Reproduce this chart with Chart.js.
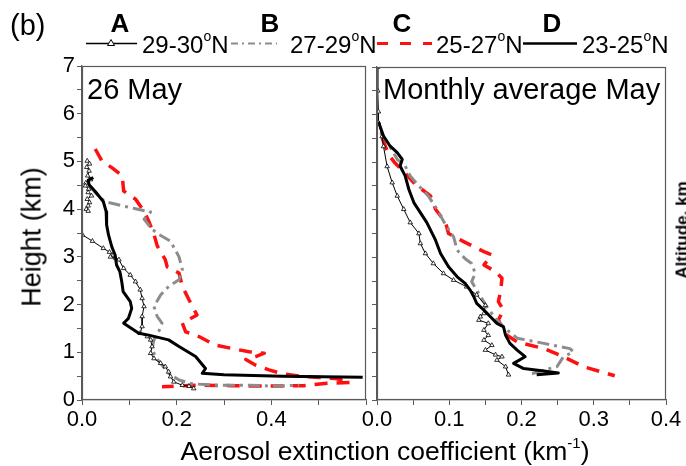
<!DOCTYPE html>
<html><head><meta charset="utf-8">
<script src="https://cdn.jsdelivr.net/npm/chart.js@4.4.0/dist/chart.umd.min.js"></script>
<style>
html,body{margin:0;padding:0;background:#fff;}
#wrap{position:relative;width:686px;height:466px;overflow:hidden;font-family:"Liberation Sans",Arial,sans-serif;color:#000;background:#fff;}
canvas{position:absolute;top:0;}
.t{position:absolute;white-space:nowrap;line-height:1;}
.L{position:absolute;white-space:nowrap;line-height:1;top:10px;width:30px;text-align:center;font-size:26px;font-weight:bold;}
</style></head><body>
<div id="wrap">
<canvas id="c1" width="372" height="466" style="left:0;width:372px;height:466px"></canvas>
<canvas id="c2" width="346" height="466" style="left:340px;width:346px;height:466px"></canvas>
<svg style="position:absolute;left:0;top:0" width="686" height="60">
  <line x1="86" y1="43.5" x2="137" y2="43.5" stroke="#000" stroke-width="1.5"/>
  <polygon points="111,39.5 107.5,45.5 114.5,45.5" fill="#fff" stroke="#000" stroke-width="1"/>
  <line x1="231" y1="43.5" x2="277" y2="43.5" stroke="#8c8c8c" stroke-width="2" stroke-dasharray="7,4,2,4"/>
  <line x1="377" y1="43.5" x2="432" y2="43.5" stroke="#ff1010" stroke-width="3" stroke-dasharray="11,12"/>
  <line x1="523" y1="43.5" x2="577" y2="43.5" stroke="#000" stroke-width="2.5"/>
</svg>
<div class="t" style="left:10px;top:11px;font-size:29px">(b)</div>
<div class="L" style="left:105px">A</div>
<div class="L" style="left:255px">B</div>
<div class="L" style="left:387px">C</div>
<div class="L" style="left:537px">D</div>
<div class="t" style="left:142px;top:32.7px;font-size:24px">29-30<span style="font-size:14px;position:relative;top:-12px">o</span>N</div>
<div class="t" style="left:290px;top:32.7px;font-size:24px">27-29<span style="font-size:14px;position:relative;top:-12px">o</span>N</div>
<div class="t" style="left:436px;top:32.7px;font-size:24px">25-27<span style="font-size:14px;position:relative;top:-12px">o</span>N</div>
<div class="t" style="left:582px;top:32.7px;font-size:24px">23-25<span style="font-size:14px;position:relative;top:-12px">o</span>N</div>
<div class="t" style="left:87px;top:74.5px;font-size:29px">26 May</div>
<div class="t" style="left:383px;top:74.5px;font-size:29px">Monthly average May</div>
<div class="t" style="left:32px;top:237px;font-size:27px;transform:translate(-50%,-50%) rotate(-90deg)">Height (km)</div>
<div class="t" style="left:385px;top:438px;font-size:26.5px;transform:translateX(-50%)">Aerosol extinction coefficient (km<span style="font-size:15px;position:relative;top:-12px">-1</span>)</div>
<div class="t" style="left:681.5px;top:230px;font-size:17px;font-weight:bold;transform:translate(-50%,-50%) rotate(-90deg)">Altitude, km</div>
</div>
<script>
// ---- data: [extinction coefficient (km^-1), height (km)] ----
const dayA = [[.011,5.01],[.016,4.95],[.010,4.88],[.015,4.80],[.012,4.70],[.018,4.62],[.008,4.55],[.007,4.49],[.014,4.42],[.013,4.35],[.020,4.28],[.011,4.21],[.016,4.14],[.013,4.07],[.009,4.00],[.013,3.96],null,
  [.001,3.46],[.022,3.33],[.045,3.18],[.058,3.10],[.066,3.04],[.060,3.00],[.070,2.98],[.078,2.94],[.088,2.76],[.102,2.62],[.113,2.48],[.123,2.31],[.127,2.13],[.131,1.96],[.127,1.75],[.127,1.54],[.123,1.40],[.138,1.33],[.145,1.26],[.148,1.12],[.145,0.98],[.152,0.87],[.166,0.77],[.176,0.70],[.183,0.59],[.187,0.49],[.194,0.38],[.212,0.31],[.226,0.29],[.236,0.24]];
const dayB = [[.017,4.48],[.028,4.35],[.040,4.22],[.056,4.14],[.085,4.07],[.113,4.01],[.145,3.94],[.131,3.79],[.148,3.58],[.162,3.47],[.187,3.33],[.205,3.0],[.212,2.73],[.205,2.52],[.183,2.38],[.166,2.20],[.152,1.96],[.159,1.75],[.169,1.61],[.162,1.43],[.152,1.26],[.148,1.08],[.155,0.91],[.169,0.73],[.183,0.56],[.205,0.42],[.233,0.34],[.282,0.31],[.353,0.31],[.409,0.29],[.459,0.31]];
const dayC = [[.028,5.26],[.042,5.01],[.063,4.87],[.085,4.70],[.088,4.38],[.113,4.21],[.131,3.96],[.141,3.75],[.152,3.47],[.159,3.23],[.176,2.94],[.180,2.79],[.205,2.66],[.212,2.38],[.226,2.10],[.243,1.78],[.212,1.61],[.219,1.43],[.247,1.33],[.282,1.15],[.317,1.08],[.353,1.01],[.385,0.98],[.367,0.91],[.346,0.85],[.367,0.73],[.395,0.63],[.423,0.55],[.459,0.50],[.494,0.476],[.536,0.45],[.567,0.37],[.518,0.35],[.468,0.30],[.388,0.29],[.317,0.30],[.247,0.31],[.169,0.28]];
const dayD = [[.024,4.66],[.013,4.61],[.015,4.51],[.028,4.37],[.045,4.16],[.051,3.95],[.052,3.67],[.056,3.46],[.063,3.21],[.070,3.04],[.073,2.83],[.080,2.69],[.084,2.48],[.087,2.27],[.102,2.06],[.105,1.92],[.098,1.71],[.091,1.64],[.088,1.61],[.120,1.40],[.141,1.36],[.183,1.26],[.205,1.12],[.240,0.91],[.261,0.66],[.254,0.56],[.300,0.53],[.423,0.50],[.593,0.476]];
const monA = [[.001,7.0],[.001,6.5],[.002,6.06],[.002,5.83],[.007,5.54],[.009,5.33],[.014,4.91],[.021,4.57],[.028,4.29],[.037,4.01],[.046,3.73],[.058,3.50],[.060,3.29],[.067,3.08],[.078,2.87],[.092,2.66],[.106,2.52],[.124,2.38],[.138,2.21],[.150,1.99],[.148,1.82],[.143,1.75],[.141,1.68],[.154,1.61],[.148,1.47],[.154,1.36],[.148,1.26],[.159,1.15],[.150,1.05],[.164,0.95],[.173,0.91],[.166,0.84],[.178,0.70],[.182,0.53]];
const monB = [[.005,5.62],[.015,5.40],[.028,5.06],[.039,4.92],[.046,4.71],[.058,4.50],[.071,4.29],[.083,4.01],[.095,3.68],[.106,3.43],[.111,3.15],[.122,2.97],[.131,2.87],[.136,2.66],[.131,2.49],[.138,2.31],[.152,1.96],[.166,1.68],[.180,1.47],[.194,1.30],[.231,1.19],[.267,1.08],[.272,1.01],[.258,0.91],[.249,0.70],[.231,0.63],[.210,0.53]];
const monC = [[.007,5.51],[.016,5.16],[.025,4.98],[.040,4.75],[.053,4.53],[.074,4.29],[.081,4.01],[.095,3.73],[.099,3.50],[.120,3.33],[.129,3.26],[.148,3.12],[.159,3.05],[.148,2.84],[.164,2.70],[.173,2.56],[.171,2.28],[.168,2.07],[.175,1.89],[.168,1.68],[.173,1.54],[.180,1.36],[.194,1.22],[.231,1.08],[.258,0.91],[.286,0.70],[.329,0.51]];
const monD = [[.002,5.85],[.009,5.55],[.018,5.34],[.028,5.20],[.035,5.06],[.032,4.92],[.039,4.71],[.044,4.43],[.051,4.15],[.060,3.94],[.069,3.73],[.081,3.36],[.088,3.08],[.099,2.80],[.111,2.59],[.122,2.45],[.129,2.31],[.134,2.17],[.138,2.03],[.148,1.89],[.157,1.75],[.166,1.61],[.175,1.54],[.178,1.36],[.184,1.19],[.194,1.05],[.205,0.91],[.189,0.77],[.203,0.66],[.231,0.61],[.251,0.57],[.221,0.53]];
const leftXTicks = ['0.0','0.2','0.4'];
const rightXTicks = ['0.0','0.1','0.2','0.3','0.4'];
const yTicks = ['0','1','2','3','4','5','6','7'];

Chart.defaults.font.family = '"Liberation Sans", Arial, sans-serif';
Chart.defaults.color = '#000';
const pts = a => a.map(p => p ? {x:p[0], y:p[1]} : {x:null, y:null});

const frame = {id:'frame', afterDraw(chart){
  const {ctx, chartArea:a} = chart; ctx.save();
  ctx.strokeStyle = '#5a5a5a'; ctx.lineWidth = 1.2;
  ctx.strokeRect(Math.round(a.left)+0.5, Math.round(a.top)+0.5, Math.round(a.right-a.left)-1, Math.round(a.bottom-a.top)-1);
  ctx.restore();
}};

function sets(A,B,C,D){
  const base = {showLine:true, tension:0, pointRadius:0, fill:false, borderJoinStyle:'round', borderCapStyle:'butt'};
  return [
    Object.assign({}, base, {label:'23-25°N', data:pts(D), borderColor:'#000', borderWidth:3}),
    Object.assign({}, base, {label:'29-30°N', data:pts(A), borderColor:'#000', borderWidth:1,
      pointRadius:2.6, pointStyle:'triangle', pointBackgroundColor:'#fff', pointBorderColor:'#000', pointBorderWidth:0.8, spanGaps:false}),
    Object.assign({}, base, {label:'27-29°N', data:pts(B), borderColor:'#8c8c8c', borderWidth:3, borderDash:[12,5,3,5]}),
    Object.assign({}, base, {label:'25-27°N', data:pts(C), borderColor:'#ff1010', borderWidth:3.5, borderDash:[13,9]})
  ];
}

function opts(xmax, xstep, xLabels, yw, pad, showY){
  const near = (v, arr) => arr.find(s => Math.abs(parseFloat(s) - v) < 1e-6);
  return {
    responsive:false, animation:false, devicePixelRatio:1,
    layout:{padding:pad},
    plugins:{legend:{display:false}, tooltip:{enabled:false}},
    scales:{
      x:{type:'linear', min:0, max:xmax, position:'bottom',
        ticks:{stepSize:xstep, font:{size:22}, padding:2, maxRotation:0, autoSkip:false,
          callback:v => near(v, xLabels) || ''},
        grid:{drawOnChartArea:false, tickLength:5, color:'#5a5a5a'},
        border:{color:'#5a5a5a', width:1.2},
        afterFit:s => { s.height = 66; }},
      y:{type:'linear', min:0, max:7,
        ticks:{stepSize:0.5, font:{size:22}, padding:2, autoSkip:false,
          callback:v => showY ? (near(v, yTicks) || '') : ''},
        grid:{drawOnChartArea:false, tickLength:5, color:'#5a5a5a'},
        border:{color:'#5a5a5a', width:1.2},
        afterFit:s => { s.width = yw; }}
    }
  };
}

new Chart(document.getElementById('c1'), {type:'scatter', data:{datasets:sets(dayA,dayB,dayC,dayD)},
  options:opts(0.6, 0.1, leftXTicks, 82, {top:66, right:6, left:0, bottom:0}, true), plugins:[frame]});
new Chart(document.getElementById('c2'), {type:'scatter', data:{datasets:sets(monA,monB,monC,monD)},
  options:opts(0.4, 0.05, rightXTicks, 37, {top:67, right:20, left:0, bottom:0}, false), plugins:[frame]});
</script>
</body></html>
